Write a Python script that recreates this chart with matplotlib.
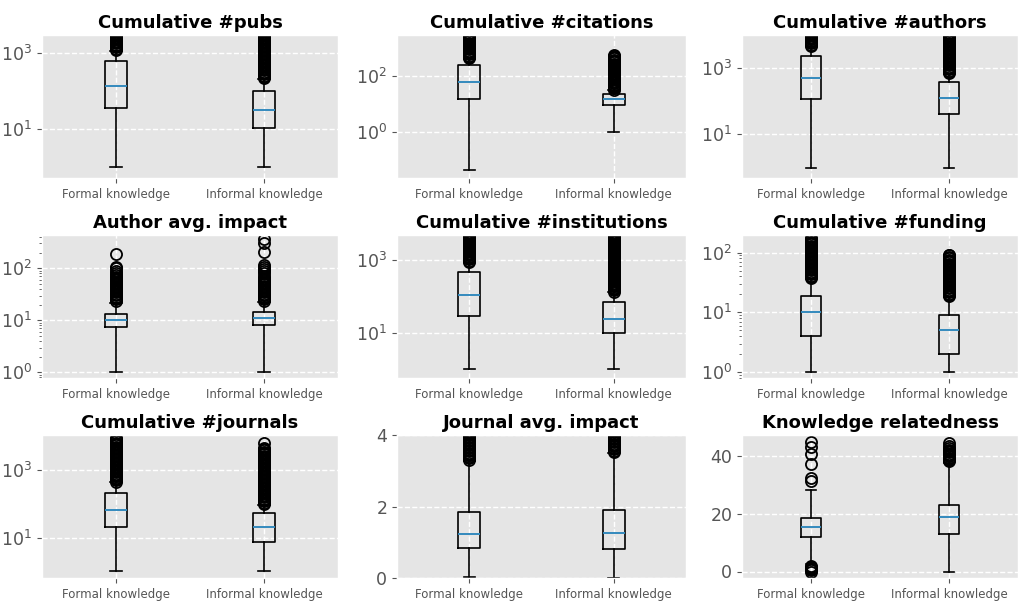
import matplotlib
matplotlib.use('Agg')
import matplotlib.pyplot as plt
from matplotlib.ticker import NullLocator

titles = ['Cumulative #pubs', 'Cumulative #citations', 'Cumulative #authors',
          'Author avg. impact', 'Cumulative #institutions', 'Cumulative #funding',
          'Cumulative #journals', 'Journal avg. impact', 'Knowledge relatedness']
groups = ['Formal knowledge', 'Informal knowledge']
log_scale = [True, True, True, True, True, True, True, False, False]
y_ticks = [[10, 1000], [1, 100], [10, 1000], [1, 10, 100], [10, 1000],
           [1, 10, 100], [10, 1000], [0, 2, 4], [0, 20, 40]]
minor_ticks = [False, False, False, True, False, True, False, False, False]

# box stats, one entry per panel
formal_whislo = [1, 0.042, 1, 1, 1, 1, 1, 0.03, 2.5]
formal_q1 = [35, 15, 115, 7.4, 29, 4, 20.6, 0.85, 12.1]
formal_med = [135, 59, 475, 10.3, 109, 10, 66, 1.24, 15.5]
formal_q3 = [600, 250, 2250, 13.4, 460, 19, 205, 1.86, 18.5]
formal_whishi = [1100, 400, 4300, 22, 880, 36, 430, 3.28, 28.2]

informal_whislo = [1, 1, 1, 1, 1, 1, 1, 0, 0]
informal_q1 = [11, 9, 41, 8, 10, 2, 7.6, 0.82, 13.2]
informal_med = [32, 15, 120, 11, 23, 5, 20.5, 1.27, 18.8]
informal_q3 = [100, 22, 380, 14.5, 68, 9, 52, 1.91, 23]
informal_whishi = [200, 30, 650, 23, 130, 18, 95, 3.5, 37.7]

formal_fliers = [
    [1170, 1270, 1370, 1490, 1610, 1750, 1900, 2060, 2230, 2420, 2620, 2840,
     3080, 3340],
    [427, 476, 530, 590, 657, 732, 816, 909, 1012, 1128, 1256, 1400, 1559,
     1737, 1935, 2156, 2401, 2675, 2980, 3320],
    [4470, 4900, 5370, 5890, 6450, 7070, 7750, 8500, 9310, 10200, 11200],
    [24, 25.5, 27, 28.7, 30.5, 32.4, 34.4, 36.5, 38.8, 41.2, 43.7, 46.4, 49.3,
     52.4, 55.6, 59, 62.7, 66.6, 69, 75, 82, 90, 100, 108, 186],
    [891, 968, 1051, 1141, 1239, 1346, 1462, 1587, 1724, 1872, 2033, 2208,
     2398, 2604, 2828, 3071, 3335, 3622, 3934, 4272, 4640, 5039, 5470],
    [37, 39, 41.1, 43.3, 45.6, 48.1, 50.7, 53.4, 56.3, 59.3, 62.5, 65.9, 69.5,
     73.2, 77.2, 81.3, 85.7, 90.4, 95.2, 100, 106, 112, 118, 124, 131, 138,
     145, 153, 161, 170, 174],
    [447, 490, 537, 589, 645, 707, 775, 850, 931, 1021, 1119, 1226, 1344,
     1473, 1615, 1770, 1940, 2126, 2330, 2554, 2799, 3068, 3362, 3685, 4039,
     4427, 4851, 5317, 5827, 6387, 7000, 7672, 8408, 8710],
    [3.31, 3.35, 3.39, 3.43, 3.47, 3.51, 3.55, 3.59, 3.63, 3.67, 3.71, 3.75,
     3.79, 3.83, 3.87, 3.91, 3.95, 3.99, 4.03, 4.07],
    [0, 0.4, 0.8, 1.2, 1.6, 2.0, 31.3, 32.6, 37.5, 40.9, 43.4, 45.2],
]
informal_fliers = [
    [214, 232, 252, 273, 296, 320, 347, 376, 408, 442, 479, 520, 563, 611,
     662, 718, 778, 843, 914, 991, 1075, 1165, 1263, 1369, 1484, 1609, 1744,
     1890, 2049, 2221, 2408, 2610, 2830, 3068, 3325],
    [32, 36, 40, 44, 49, 55, 61, 68, 76, 84, 94, 105, 117, 130, 145, 161,
     180, 200, 223, 249, 277, 309, 344, 383, 427, 475, 530, 575],
    [676, 741, 812, 890, 976, 1070, 1172, 1285, 1408, 1543, 1692, 1854, 2032,
     2227, 2441, 2676, 2933, 3214, 3523, 3861, 4232, 4638, 5083, 5571, 6106,
     6692, 7335, 8039, 8811, 9657, 10584],
    [24, 25.5, 27, 28.7, 30.5, 32.4, 34.4, 36.5, 38.8, 41.2, 43.7, 46.4, 49.3,
     52.4, 55.6, 59, 62.7, 65, 72, 80, 88, 96, 105, 115, 209, 310, 365],
    [135, 147, 159, 173, 188, 204, 221, 240, 261, 283, 308, 334, 363, 394,
     428, 465, 505, 548, 595, 646, 702, 762, 828, 899, 976, 1060, 1151, 1250,
     1358, 1474, 1601, 1739, 1888, 2051, 2227, 2419, 2627, 2853, 3098, 3365,
     3654, 3968, 4310, 4680, 5083, 5520],
    [18.5, 19.5, 20.6, 21.7, 22.9, 24.1, 25.4, 26.8, 28.2, 29.7, 31.3, 33,
     34.8, 36.7, 38.7, 40.8, 43, 45.3, 47.7, 50.3, 53, 55.9, 58.9, 62.1, 65.4,
     69, 72.7, 76.6, 80.7, 85.1, 89.7, 91],
    [98, 107, 118, 129, 141, 155, 170, 186, 204, 224, 245, 269, 294, 323, 354,
     388, 425, 466, 510, 559, 613, 672, 736, 807, 885, 969, 1063, 1165, 1276,
     1399, 1533, 1681, 1842, 2019, 2213, 2425, 2658, 2913, 3193, 3499, 3835,
     4203, 4365, 6100],
    [3.52, 3.56, 3.60, 3.64, 3.68, 3.72, 3.76, 3.80, 3.84, 3.88, 3.92, 3.96,
     4.00, 4.04, 4.08],
    [38.3, 38.7, 39.2, 39.6, 40.1, 40.5, 41, 41.4, 41.9, 42.3, 42.8, 43.5, 44.6],
]

y_limits = [(0.53, 2900), (0.0215, 2960), (0.49, 9500), (0.78, 437),
            (0.56, 4900), (0.80, 197), (0.64, 10800), (0, 4), None]

plt.style.use('ggplot')
fig, axes = plt.subplots(3, 3, figsize=(10.21, 6.03), dpi=100)
fig.patch.set_facecolor('white')

col_px = [(42, 338), (397, 686), (742, 1018)]
row_px = [(35, 178), (235, 378), (435, 578)]

for i, ax in enumerate(axes.flat):
    r, c = divmod(i, 3)
    x0, x1 = col_px[c]
    y0, y1 = row_px[r]
    ax.set_position([x0 / 1021, 1 - y1 / 603, (x1 - x0) / 1021, (y1 - y0) / 603])

    stats = [
        dict(label=groups[0], whislo=formal_whislo[i], q1=formal_q1[i], med=formal_med[i],
             q3=formal_q3[i], whishi=formal_whishi[i], fliers=formal_fliers[i]),
        dict(label=groups[1], whislo=informal_whislo[i], q1=informal_q1[i], med=informal_med[i],
             q3=informal_q3[i], whishi=informal_whishi[i], fliers=informal_fliers[i]),
    ]
    line = dict(color='black', linewidth=1.2)
    ax.bxp(stats, boxprops=line, whiskerprops=line, capprops=line,
           medianprops=dict(color='#348ABD', linewidth=1.4),
           flierprops=dict(marker='o', markersize=8, markerfacecolor='none',
                           markeredgecolor='black', markeredgewidth=1.3))
    if log_scale[i]:
        ax.set_yscale('log')
    ax.set_yticks(y_ticks[i])
    if not minor_ticks[i]:
        ax.yaxis.set_minor_locator(NullLocator())
    if y_limits[i] is not None:
        ax.set_ylim(*y_limits[i])
    ax.set_title(titles[i], fontsize=13, fontweight='bold', color='black', pad=5)
    ax.grid(True, color='white', linestyle='--', linewidth=1)
    ax.tick_params(axis='x', labelsize=8.5, colors='#555555')
    ax.tick_params(axis='y', labelsize=12.5, colors='#555555')

plt.savefig('out.png', dpi=100)
